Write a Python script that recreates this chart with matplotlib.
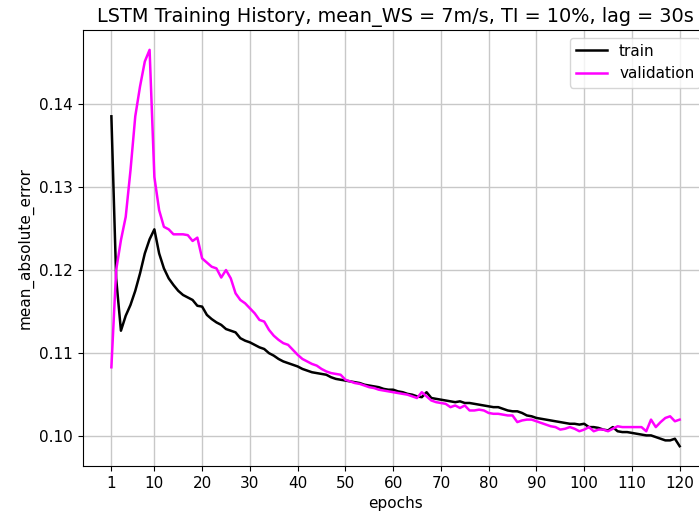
import numpy as np
import matplotlib
matplotlib.use("Agg")
import matplotlib.pyplot as plt

plt.rcParams['font.size'] = 11

epochs = np.arange(1, 121)

train_mae = [
    0.1385, 0.1190, 0.1127, 0.1145, 0.1158, 0.1175, 0.1196, 0.1220, 0.1237, 0.1249,
    0.1220, 0.1202, 0.1190, 0.1182, 0.1175, 0.1170, 0.1167, 0.1164, 0.1157, 0.1156,
    0.1146, 0.1141, 0.1137, 0.1134, 0.1129, 0.1127, 0.1125, 0.1118, 0.1115, 0.1113,
    0.1110, 0.1107, 0.1105, 0.1100, 0.1097, 0.1093, 0.1090, 0.1088, 0.1086, 0.1084,
    0.1081, 0.1079, 0.1077, 0.1076, 0.1075, 0.1074, 0.1071, 0.1069, 0.1068, 0.1067,
    0.1066, 0.1065, 0.1064, 0.1062, 0.1061, 0.1060, 0.1059, 0.1057, 0.1056, 0.1056,
    0.1054, 0.1053, 0.1051, 0.1050, 0.1048, 0.1047, 0.1053, 0.1046, 0.1045, 0.1044,
    0.1043, 0.1042, 0.1041, 0.1042, 0.1040, 0.1040, 0.1039, 0.1038, 0.1037, 0.1036,
    0.1035, 0.1035, 0.1033, 0.1031, 0.1030, 0.1030, 0.1028, 0.1025, 0.1024, 0.1022,
    0.1021, 0.1020, 0.1019, 0.1018, 0.1017, 0.1016, 0.1015, 0.1015, 0.1014, 0.1015,
    0.1011, 0.1011, 0.1010, 0.1008, 0.1007, 0.1011, 0.1006, 0.1005, 0.1005, 0.1004,
    0.1003, 0.1002, 0.1001, 0.1001, 0.0999, 0.0997, 0.0995, 0.0995, 0.0997, 0.0988,
]

val_mae = [
    0.1083, 0.1200, 0.1236, 0.1264, 0.1320, 0.1385, 0.1421, 0.1451, 0.1465, 0.1312,
    0.1272, 0.1252, 0.1249, 0.1243, 0.1243, 0.1243, 0.1242, 0.1235, 0.1239, 0.1214,
    0.1209, 0.1204, 0.1202, 0.1191, 0.1200, 0.1190, 0.1172, 0.1164, 0.1160, 0.1154,
    0.1148, 0.1140, 0.1138, 0.1128, 0.1121, 0.1116, 0.1112, 0.1110, 0.1104, 0.1098,
    0.1093, 0.1090, 0.1087, 0.1085, 0.1081, 0.1078, 0.1076, 0.1075, 0.1074, 0.1068,
    0.1066, 0.1064, 0.1063, 0.1061, 0.1059, 0.1058, 0.1056, 0.1055, 0.1054, 0.1053,
    0.1052, 0.1051, 0.1050, 0.1048, 0.1046, 0.1053, 0.1048, 0.1043, 0.1041, 0.1040,
    0.1039, 0.1035, 0.1037, 0.1034, 0.1037, 0.1031, 0.1031, 0.1032, 0.1031, 0.1028,
    0.1027, 0.1027, 0.1026, 0.1025, 0.1025, 0.1017, 0.1019, 0.1020, 0.1020, 0.1018,
    0.1016, 0.1014, 0.1012, 0.1011, 0.1008, 0.1009, 0.1011, 0.1009, 0.1006, 0.1008,
    0.1011, 0.1006, 0.1008, 0.1008, 0.1006, 0.1009, 0.1012, 0.1011, 0.1011, 0.1011,
    0.1011, 0.1011, 0.1006, 0.1020, 0.1011, 0.1017, 0.1022, 0.1024, 0.1018, 0.1020,
]

xticks = [1, 10, 20, 30, 40, 50, 60, 70, 80, 90, 100, 110, 120]

fig = plt.figure(figsize=(6.99, 5.15), dpi=100)
# axes runs a little past the right edge, as in the reference
ax = fig.add_axes([0.1187, 0.0951, 0.8943, 0.8466])
ax.plot(epochs, train_mae, color='black', lw=1.8, label='train')
ax.plot(epochs, val_mae, color='magenta', lw=1.8, label='validation')
ax.set_title('LSTM Training History, mean_WS = 7m/s, TI = 10%, lag = 30s', fontsize=13.9)
ax.set_xlabel('epochs')
ax.set_ylabel('mean_absolute_error')
ax.set_xticks(xticks)
ax.set_yticks([0.10, 0.11, 0.12, 0.13, 0.14])
ax.set_yticklabels(['0.10', '0.11', '0.12', '0.13', '0.14'])
ax.grid(color='#c8c8c8', lw=1.0)
ax.legend(loc='upper right')

fig.savefig('out.png', dpi=100)
